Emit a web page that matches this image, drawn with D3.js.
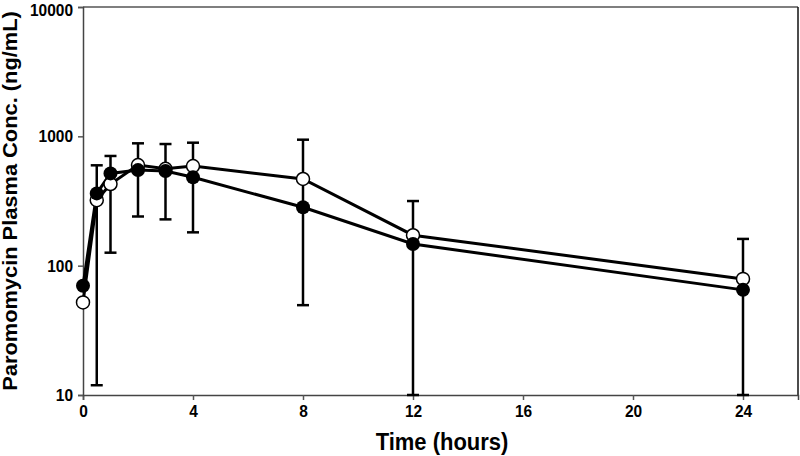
<!DOCTYPE html>
<html><head><meta charset="utf-8">
<script src="https://cdn.jsdelivr.net/npm/d3@7"></script>
<style>body{margin:0;background:#fff}svg{display:block}text{font-family:"Liberation Sans",Arial,sans-serif;font-weight:bold}</style>
</head><body>
<script>
const times = [0, 0.5, 1, 2, 3, 4, 8, 12, 24];
const openValues = [52, 321, 428, 600, 561, 589, 468, 172, 79];
const filledValues = [70, 362, 517, 548, 540, 482, 283, 147, 65];
const errTimes = [0.5, 1, 2, 3, 4, 8, 12, 24];
const errHigh = [597, 705, 883, 872, 893, 942, 316, 161];
const errLow = [11.9, 126, 240, 228, 181, 49.5, 10, 10];
const xTicks = [0, 4, 8, 12, 16, 20, 24];
const yTicks = [10, 100, 1000, 10000];

const W = 800, H = 456;
const m = {left: 83, right: 2, top: 7, bottom: 61};
const SY = 1.12; // vertical stretch of the reference's lettering
const svg = d3.select("body").append("svg").attr("width", W).attr("height", H);
const x = d3.scaleLinear().domain([0, 26]).range([m.left, W - m.right]);
const y = d3.scaleLog().domain([10, 10000]).range([H - m.bottom, m.top]);

// frame top/right
svg.append("line").attr("x1", x(0)).attr("x2", x(26)).attr("y1", y(10000)).attr("y2", y(10000)).attr("stroke", "#555").attr("stroke-width", 1.5);
svg.append("line").attr("x1", x(26)).attr("x2", x(26)).attr("y1", y(10000)).attr("y2", y(10)).attr("stroke", "#111").attr("stroke-width", 1.5);

const xa = svg.append("g").attr("transform", `translate(0,${y(10)})`)
  .call(d3.axisBottom(x).tickValues(xTicks).tickSize(5).tickPadding(8).tickFormat(d3.format("d")));
const ya = svg.append("g").attr("transform", `translate(${x(0)},0)`)
  .call(d3.axisLeft(y).tickValues(yTicks).tickSize(5).tickPadding(5).tickFormat(d3.format("d")));
[xa, ya].forEach(a => {
  a.select(".domain").attr("stroke", "#444").attr("stroke-width", 1.5);
  a.selectAll(".tick line").attr("stroke", "#555").attr("stroke-width", 1.5);
  a.selectAll("text").attr("fill", "#000").style("font-size", "15.5px").style("font-family", "'Liberation Sans',Arial,sans-serif").style("font-weight", "bold");
});
xa.selectAll(".tick text").attr("y", 0).attr("dy", 0)
  .attr("transform", `translate(0,22) scale(1,${SY})`);
ya.selectAll(".tick text").attr("dy", 0).attr("y", 0).attr("x", 0)
  .attr("transform", d => `translate(-10,${d === 10000 ? 8.5 : 5.5}) scale(1,${SY})`);

// error bars
const eb = svg.append("g").attr("stroke", "#000").attr("stroke-width", 2.5);
errTimes.forEach((t, i) => {
  eb.append("line").attr("x1", x(t)).attr("x2", x(t)).attr("y1", y(errHigh[i])).attr("y2", y(errLow[i]));
  eb.append("line").attr("x1", x(t) - 6).attr("x2", x(t) + 6).attr("y1", y(errHigh[i])).attr("y2", y(errHigh[i]));
  eb.append("line").attr("x1", x(t) - 6).attr("x2", x(t) + 6).attr("y1", y(errLow[i])).attr("y2", y(errLow[i]));
});

const line = d3.line().x(d => x(d[0])).y(d => y(d[1]));
const openData = times.map((t, i) => [t, openValues[i]]);
const filledData = times.map((t, i) => [t, filledValues[i]]);

svg.append("path").datum(openData).attr("d", line).attr("fill", "none").attr("stroke", "#000").attr("stroke-width", 3);
svg.append("path").datum(filledData).attr("d", line).attr("fill", "none").attr("stroke", "#000").attr("stroke-width", 3);

svg.append("g").selectAll("circle").data(openData).join("circle")
  .attr("cx", d => x(d[0])).attr("cy", d => y(d[1])).attr("r", 6.5)
  .attr("fill", "#fff").attr("stroke", "#000").attr("stroke-width", 1.5);
svg.append("g").selectAll("circle").data(filledData).join("circle")
  .attr("cx", d => x(d[0])).attr("cy", d => y(d[1])).attr("r", 7)
  .attr("fill", "#000");

svg.append("text").attr("transform", `translate(442,450) scale(1,${SY})`).attr("text-anchor", "middle")
  .style("font-size", "22px").text("Time (hours)");
svg.append("text").attr("transform", `translate(17,201) scale(1,${SY}) rotate(-90)`).attr("text-anchor", "middle")
  .style("font-size", "19.5px").text("Paromomycin Plasma Conc. (ng/mL)");
</script>
</body></html>
